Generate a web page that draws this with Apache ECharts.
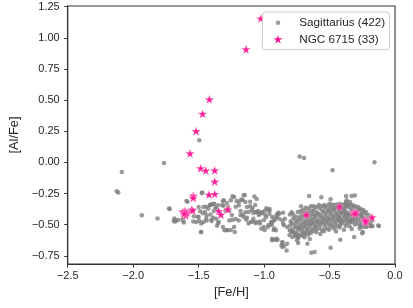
<!DOCTYPE html>
<html><head><meta charset="utf-8">
<script src="https://cdn.jsdelivr.net/npm/echarts@6/dist/echarts.min.js"></script>
<style>html,body{margin:0;padding:0;background:#fff}#c{width:413px;height:308px}</style>
</head><body><div id="c"></div>
<script>
const xTicks = [-2.5, -2.0, -1.5, -1.0, -0.5, 0.0];
const yTicks = [-0.75, -0.5, -0.25, 0, 0.25, 0.5, 0.75, 1.0, 1.25];
const sagName = 'Sagittarius (422)';
const ngcName = 'NGC 6715 (33)';

const sagOutliers = [
[-2.126,-0.232],[-2.114,-0.242],[-2.087,-0.076],[-1.765,-0.004],[-1.495,0.178],[-0.728,0.047],[-0.695,0.036],[-0.477,-0.063],[-0.157,0.002],
[-1.934,-0.424],[-1.814,-0.449],[-1.726,-0.37],[-1.685,-0.45],[-1.69,-0.47],[-1.672,-0.465],[-1.613,-0.483],[-1.482,-0.559],[-1.473,-0.242],
[-1.593,-0.31],[-1.573,-0.39],[-1.536,-0.432],[-1.519,-0.478],[-1.655,-0.462],[-1.62,-0.468],
[-0.656,-0.269],[-0.563,-0.28],[-0.374,-0.269],[-0.332,-0.27],[-0.307,-0.266],[-0.128,-0.507],[-0.492,-0.296],[-0.718,-0.352],
[-0.939,-0.625],[-0.907,-0.62],[-0.861,-0.639],[-0.868,-0.666],[-0.824,-0.652],[-0.828,-0.706],[-0.740,-0.647],[-0.669,-0.652],
[-0.639,-0.724],[-0.614,-0.719],[-0.492,-0.684],[-0.418,-0.62],[-0.312,-0.599],[-0.251,-0.569],[-0.651,-0.615],[-0.897,-0.62]
];
const sagLeft = [
[-1.500,-0.357],[-1.488,-0.392],[-1.463,-0.357],[-1.451,-0.398],[-1.426,-0.371],[-1.438,-0.424],[-1.414,-0.344],[-1.402,-0.336],
[-1.382,-0.331],[-1.372,-0.371],[-1.352,-0.344],[-1.340,-0.398],[-1.320,-0.344],[-1.308,-0.304],[-1.284,-0.325],[-1.274,-0.357],
[-1.254,-0.304],[-1.242,-0.272],[-1.229,-0.277],[-1.210,-0.309],[-1.193,-0.344],[-1.175,-0.298],[-1.156,-0.264],[-1.143,-0.317],
[-1.131,-0.357],[-1.119,-0.398],[-1.107,-0.352],[-1.094,-0.384],[-1.082,-0.406],[-1.062,-0.398],[-1.045,-0.390],[-1.033,-0.411],
[-1.013,-0.406],[-0.996,-0.390],[-0.971,-0.379],[-0.959,-0.411],[-0.939,-0.438],[-0.922,-0.465],[-0.905,-0.424],[-0.885,-0.411],
[-1.500,-0.438],[-1.480,-0.491],[-1.463,-0.478],[-1.438,-0.465],[-1.402,-0.459],[-1.365,-0.451],[-1.347,-0.478],[-1.315,-0.518],
[-1.303,-0.545],[-1.279,-0.545],[-1.266,-0.465],[-1.242,-0.459],[-1.229,-0.518],[-1.224,-0.558],[-1.193,-0.465],[-1.180,-0.424],
[-1.156,-0.438],[-1.136,-0.459],[-1.119,-0.491],[-1.102,-0.478],[-1.082,-0.451],[-1.062,-0.478],[-1.033,-0.491],[-1.021,-0.532],
[-1.003,-0.518],[-0.971,-0.518],[-0.947,-0.491],[-0.910,-0.545],[-0.922,-0.620],[-1.480,-0.558],
[-1.721,-0.374],[-1.679,-0.475],[-1.622,-0.449],[-1.585,-0.315],[-1.541,-0.475],[-1.507,-0.435],[-1.495,-0.470],[-1.475,-0.248],
[-1.468,-0.408],[-1.443,-0.355],[-1.443,-0.449],[-1.413,-0.341],[-1.389,-0.336],[-1.369,-0.363],[-1.384,-0.390],[-1.409,-0.417],
[-1.389,-0.443],[-1.401,-0.470],[-1.352,-0.489],[-1.359,-0.508],[-1.315,-0.309],[-1.310,-0.347],[-1.295,-0.390],[-1.266,-0.390],
[-1.286,-0.542],[-1.254,-0.542],[-1.246,-0.422],[-1.217,-0.454],[-1.217,-0.355],[-1.192,-0.315],[-1.163,-0.301],[-1.148,-0.261],
[-1.180,-0.390],[-1.163,-0.422],[-1.143,-0.400],[-1.131,-0.443],[-1.106,-0.315],[-1.089,-0.368],[-1.069,-0.341],[-1.057,-0.400],
[-1.040,-0.422],[-1.020,-0.400],[-1.089,-0.475],[-1.064,-0.489],[-1.032,-0.475],[-1.000,-0.462],[-0.983,-0.435],[-0.966,-0.502],
[-0.942,-0.502],[-0.927,-0.542],[-0.996,-0.542],[-1.074,-0.274],[-1.057,-0.293],[-0.983,-0.368],[-0.959,-0.373]
];
const sagMiddle = [
[-0.991,-0.424],[-0.958,-0.384],[-0.939,-0.478],[-0.922,-0.531],[-0.897,-0.411],[-0.885,-0.451],[-0.860,-0.465],[-0.848,-0.505],
[-0.823,-0.518],[-0.804,-0.545],[-0.786,-0.558],[-0.762,-0.585],[-0.749,-0.625],[-0.739,-0.604],
[-0.946,-0.478],[-0.921,-0.453],[-0.904,-0.440],[-0.889,-0.403],[-0.855,-0.403],[-0.841,-0.451],[-0.855,-0.491],
[-0.939,-0.612],[-0.905,-0.612],[-0.860,-0.644],[-0.848,-0.671],[-0.860,-0.679]
];
const sagRight = [
[-0.803,-0.418],[-0.797,-0.473],[-0.801,-0.507],[-0.795,-0.552],[-0.806,-0.583],
[-0.782,-0.412],[-0.776,-0.447],[-0.785,-0.488],[-0.779,-0.533],[-0.773,-0.561],[-0.784,-0.598],
[-0.762,-0.431],[-0.757,-0.468],[-0.765,-0.503],[-0.754,-0.522],[-0.761,-0.567],[-0.756,-0.592],
[-0.743,-0.398],[-0.737,-0.442],[-0.746,-0.479],[-0.735,-0.513],[-0.741,-0.538],[-0.748,-0.571],[-0.736,-0.597],
[-0.722,-0.392],[-0.716,-0.421],[-0.725,-0.459],[-0.718,-0.492],[-0.727,-0.527],[-0.714,-0.553],[-0.721,-0.582],
[-0.703,-0.381],[-0.697,-0.412],[-0.706,-0.448],[-0.694,-0.477],[-0.701,-0.503],[-0.708,-0.529],[-0.696,-0.562],[-0.702,-0.588],
[-0.683,-0.363],[-0.677,-0.398],[-0.686,-0.433],[-0.675,-0.468],[-0.681,-0.492],[-0.688,-0.518],[-0.676,-0.547],[-0.684,-0.573],
[-0.662,-0.372],[-0.657,-0.408],[-0.665,-0.441],[-0.654,-0.463],[-0.661,-0.497],[-0.667,-0.528],[-0.656,-0.559],[-0.663,-0.581],
[-0.643,-0.352],[-0.636,-0.387],[-0.645,-0.422],[-0.634,-0.451],[-0.641,-0.482],[-0.647,-0.508],[-0.637,-0.538],[-0.642,-0.567],
[-0.622,-0.351],[-0.616,-0.382],[-0.625,-0.413],[-0.614,-0.437],[-0.621,-0.468],[-0.627,-0.493],[-0.615,-0.521],[-0.623,-0.548],
[-0.603,-0.358],[-0.596,-0.401],[-0.605,-0.428],[-0.594,-0.462],[-0.601,-0.483],[-0.607,-0.512],[-0.597,-0.537],[-0.602,-0.561],
[-0.582,-0.342],[-0.576,-0.368],[-0.585,-0.412],[-0.574,-0.438],[-0.581,-0.472],[-0.587,-0.497],[-0.577,-0.528],
[-0.563,-0.351],[-0.556,-0.387],[-0.565,-0.423],[-0.554,-0.452],[-0.561,-0.478],[-0.567,-0.503],[-0.557,-0.547],
[-0.542,-0.342],[-0.536,-0.362],[-0.545,-0.398],[-0.534,-0.432],[-0.541,-0.458],[-0.547,-0.487],[-0.537,-0.522],[-0.543,-0.552],
[-0.523,-0.348],[-0.516,-0.383],[-0.525,-0.409],[-0.514,-0.442],[-0.521,-0.471],[-0.527,-0.498],[-0.517,-0.532],
[-0.502,-0.332],[-0.496,-0.362],[-0.505,-0.387],[-0.494,-0.418],[-0.501,-0.452],[-0.507,-0.478],[-0.497,-0.507],[-0.503,-0.541],
[-0.483,-0.338],[-0.476,-0.371],[-0.485,-0.402],[-0.474,-0.433],[-0.481,-0.458],[-0.487,-0.492],[-0.477,-0.518],
[-0.462,-0.342],[-0.456,-0.358],[-0.465,-0.378],[-0.454,-0.412],[-0.461,-0.438],[-0.467,-0.472],[-0.457,-0.503],[-0.463,-0.532],
[-0.443,-0.338],[-0.436,-0.362],[-0.445,-0.392],[-0.434,-0.418],[-0.441,-0.452],[-0.447,-0.477],[-0.437,-0.512],
[-0.422,-0.332],[-0.416,-0.348],[-0.425,-0.382],[-0.414,-0.408],[-0.421,-0.443],[-0.427,-0.468],[-0.417,-0.498],[-0.423,-0.522],
[-0.403,-0.341],[-0.396,-0.372],[-0.405,-0.398],[-0.394,-0.428],[-0.401,-0.462],[-0.407,-0.488],
[-0.383,-0.333],[-0.376,-0.351],[-0.385,-0.378],[-0.374,-0.412],[-0.381,-0.438],[-0.387,-0.472],[-0.377,-0.508],
[-0.362,-0.338],[-0.356,-0.358],[-0.365,-0.402],[-0.354,-0.428],[-0.361,-0.462],[-0.367,-0.488],
[-0.343,-0.338],[-0.336,-0.372],[-0.345,-0.408],[-0.334,-0.442],[-0.341,-0.468],[-0.347,-0.512],
[-0.322,-0.342],[-0.316,-0.362],[-0.325,-0.388],[-0.314,-0.418],[-0.321,-0.452],[-0.327,-0.478],
[-0.303,-0.352],[-0.296,-0.378],[-0.305,-0.412],[-0.294,-0.438],[-0.301,-0.472],[-0.307,-0.498],
[-0.282,-0.358],[-0.276,-0.378],[-0.285,-0.402],[-0.274,-0.428],[-0.281,-0.458],[-0.287,-0.492],
[-0.263,-0.372],[-0.256,-0.388],[-0.265,-0.418],[-0.254,-0.452],[-0.261,-0.478],[-0.267,-0.512],
[-0.242,-0.382],[-0.236,-0.408],[-0.245,-0.442],[-0.234,-0.468],[-0.241,-0.502],
[-0.223,-0.398],[-0.216,-0.432],[-0.225,-0.462],[-0.214,-0.488],[-0.221,-0.512],
[-0.202,-0.422],[-0.196,-0.448],[-0.205,-0.478],[-0.194,-0.508],
[-0.183,-0.442],[-0.176,-0.468],[-0.185,-0.498],
[-0.369,-0.304],[-0.344,-0.317],[-0.374,-0.317],[-0.393,-0.357],[-0.406,-0.384],
[-0.381,-0.398],[-0.356,-0.424],[-0.369,-0.451],[-0.418,-0.465],[-0.430,-0.438],[-0.344,-0.478],[-0.320,-0.451],[-0.295,-0.438],
[-0.283,-0.411],[-0.270,-0.398],[-0.258,-0.424],[-0.246,-0.451],[-0.234,-0.478],[-0.258,-0.505],[-0.246,-0.518],[-0.221,-0.518],
[-0.197,-0.505],[-0.184,-0.513],[-0.172,-0.513],[-0.246,-0.559],[-0.123,-0.510],
[-0.79,-0.40],[-0.69,-0.60],[-0.57,-0.575],[-0.45,-0.555],[-0.39,-0.54],[-0.33,-0.535],[-0.27,-0.53],[-0.21,-0.48],[-0.19,-0.46]
];
const ngc6715 = [
[-1.025,1.155],[-1.138,0.908],[-1.418,0.506],[-1.470,0.390],[-1.519,0.251],[-1.566,0.072],[-1.485,-0.047],[-1.445,-0.065],
[-1.377,-0.063],[-1.377,-0.154],[-1.421,-0.258],[-1.377,-0.253],[-1.541,-0.265],[-1.541,-0.285],[-1.620,-0.395],[-1.605,-0.39],
[-1.598,-0.427],[-1.554,-0.379],[-1.347,-0.39],[-1.330,-0.419],[-1.278,-0.376],[-0.678,-0.419],[-0.425,-0.354],[-0.319,-0.403],
[-0.295,-0.403],[-0.229,-0.459],[-0.221,-0.478],[-0.175,-0.44],[-1.590,-0.405],[-1.610,-0.41],[-0.305,-0.41],[-0.225,-0.47],[-1.545,-0.385]
];

const sagittarius = sagOutliers.concat(sagLeft, sagMiddle, sagRight);
const STAR_PTS = [[50,0],[61.2,34.5],[97.6,34.5],[68.2,55.9],[79.4,90.5],[50,69.1],[20.6,90.5],[31.8,55.9],[2.4,34.5],[38.8,34.5]];
const STAR = 'path://M' + STAR_PTS.map(p => p.join(',')).join('L') + 'Z';
const minus = s => s.replace('-', '\u2212');
const txt = '#262626';
const font = 'Liberation Sans, Arial, sans-serif';
const GRAY = '#7f7f7f', PINK = '#ff1493';

// legend (drawn as graphics)
const lgX = 262.5, lgY = 12, lgW = 127, lgH = 37.5;
const iconX = 278, row1 = 22.7, row2 = 39.3, textX = 299.3, starSz = 9.5;
const starPoly = STAR_PTS.map(p => [iconX - starSz/2 + p[0]*starSz/100, row2 - starSz*0.905/2 + p[1]*starSz/100]);

const chart = echarts.init(document.getElementById('c'), null, {renderer: 'canvas'});
chart.setOption({
  animation: false,
  backgroundColor: '#fff',
  grid: {left: 56, right: 18, top: 6, bottom: 44, show: true, borderColor: '#333', borderWidth: 1.1, backgroundColor: 'transparent'},
  xAxis: {
    type: 'value', min: -2.5, max: 0, interval: 0.5,
    name: '[Fe/H]', nameLocation: 'middle', nameGap: 20,
    nameTextStyle: {fontFamily: font, fontSize: 12.8, color: txt},
    axisLine: {show: true, onZero: false, lineStyle: {color: '#333', width: 1.1}},
    axisTick: {show: true, inside: false, length: 3.5, lineStyle: {color: '#333', width: 1}, customValues: xTicks},
    axisLabel: {fontFamily: font, fontSize: 11, color: txt, margin: 6, customValues: xTicks, formatter: v => minus(v.toFixed(1))},
    splitLine: {show: false}
  },
  yAxis: {
    type: 'value', min: -0.815, max: 1.255,
    name: '[Al/Fe]', nameLocation: 'middle', nameGap: 37,
    nameTextStyle: {fontFamily: font, fontSize: 12.8, color: txt},
    axisLine: {show: true, onZero: false, lineStyle: {color: '#333', width: 1.1}},
    axisTick: {show: true, inside: false, length: 3.5, lineStyle: {color: '#333', width: 1}, customValues: yTicks},
    axisLabel: {fontFamily: font, fontSize: 11, color: txt, margin: 8, customValues: yTicks, formatter: v => minus(v.toFixed(2))},
    splitLine: {show: false}
  },
  graphic: [
    {type: 'rect', z: 50, shape: {x: lgX, y: lgY, width: lgW, height: lgH, r: 3},
     style: {fill: 'rgba(255,255,255,0.85)', stroke: '#cccccc', lineWidth: 1}},
    {type: 'circle', z: 51, shape: {cx: iconX, cy: row1, r: 2.25}, style: {fill: GRAY, opacity: 0.8}},
    {type: 'polygon', z: 51, shape: {points: starPoly}, style: {fill: PINK}},
    {type: 'text', z: 51, x: textX, y: row1, style: {text: sagName, fill: txt, font: '11.7px ' + font, textVerticalAlign: 'middle', verticalAlign: 'middle'}},
    {type: 'text', z: 51, x: textX, y: row2, style: {text: ngcName, fill: txt, font: '11.7px ' + font, textVerticalAlign: 'middle', verticalAlign: 'middle'}}
  ],
  series: [
    {name: sagName, type: 'scatter', data: sagittarius, symbol: 'circle', symbolSize: 4.5,
     itemStyle: {color: GRAY, opacity: 0.8}},
    {name: ngcName, type: 'scatter', data: ngc6715, symbol: STAR, symbolSize: 9.5, symbolKeepAspect: true,
     itemStyle: {color: PINK, opacity: 0.95, borderColor: '#ffffff', borderWidth: 0.3}}
  ]
});
</script></body></html>
